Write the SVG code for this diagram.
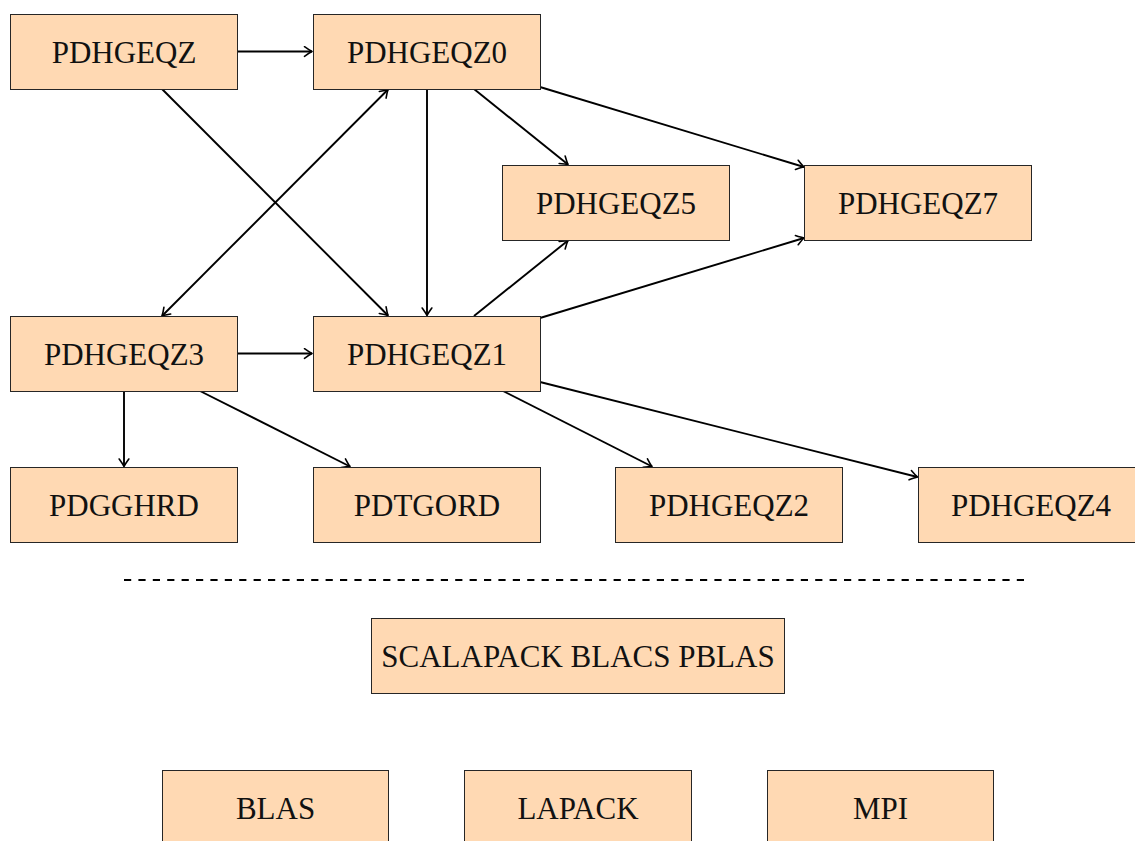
<svg xmlns="http://www.w3.org/2000/svg" width="1135" height="841" viewBox="0 0 1135 841">
<style>
.box rect{fill:#FFD9B3;stroke:#262626;stroke-width:1}
.box text{font-family:"Liberation Serif","DejaVu Serif",serif;font-size:31px;fill:#111;text-anchor:middle}
.edge{stroke:#000;stroke-width:1.9;fill:none}
</style>
<defs>
<marker id="ah" viewBox="-9 -6 11 12" markerWidth="11" markerHeight="12" refX="0" refY="0" orient="auto-start-reverse" markerUnits="userSpaceOnUse">
<path d="M -7.5 -4.8 Q -2.5 -1.2 0 0 Q -2.5 1.2 -7.5 4.8" fill="none" stroke="#000" stroke-width="1.6" stroke-linecap="round" stroke-linejoin="round"/>
</marker>
</defs>
<rect width="1135" height="841" fill="#fff"/>
<g id="connectors">
<line class="edge" x1="237" y1="51.5" x2="312" y2="51.5" marker-end="url(#ah)"/>
<line class="edge" x1="162" y1="89" x2="388" y2="315.5" marker-end="url(#ah)"/>
<line class="edge" x1="162" y1="316" x2="388" y2="89.5" marker-start="url(#ah)" marker-end="url(#ah)"/>
<line class="edge" x1="427" y1="89" x2="427" y2="315.5" marker-end="url(#ah)"/>
<line class="edge" x1="474" y1="89" x2="568" y2="164.5" marker-end="url(#ah)"/>
<line class="edge" x1="540" y1="87" x2="804" y2="167" marker-end="url(#ah)"/>
<line class="edge" x1="474" y1="316" x2="568" y2="240.5" marker-end="url(#ah)"/>
<line class="edge" x1="540" y1="318" x2="804" y2="238" marker-end="url(#ah)"/>
<line class="edge" x1="237" y1="353.5" x2="312" y2="353.5" marker-end="url(#ah)"/>
<line class="edge" x1="124" y1="391" x2="124" y2="466.5" marker-end="url(#ah)"/>
<line class="edge" x1="200" y1="391" x2="350" y2="466.5" marker-end="url(#ah)"/>
<line class="edge" x1="503" y1="391" x2="652" y2="466.5" marker-end="url(#ah)"/>
<line class="edge" x1="540" y1="382" x2="917.5" y2="477" marker-end="url(#ah)"/>
</g>
<line x1="124" y1="580" x2="1030" y2="580" stroke="#000" stroke-width="2" stroke-dasharray="7.2 7.2"/>
<g id="PDHGEQZ" class="box"><rect x="10.5" y="14.5" width="227" height="75"/><text x="124" y="63">PDHGEQZ</text></g>
<g id="PDHGEQZ0" class="box"><rect x="313.5" y="14.5" width="227" height="75"/><text x="427" y="63">PDHGEQZ0</text></g>
<g id="PDHGEQZ5" class="box"><rect x="502.5" y="165.5" width="227" height="75"/><text x="616" y="214">PDHGEQZ5</text></g>
<g id="PDHGEQZ7" class="box"><rect x="804.5" y="165.5" width="227" height="75"/><text x="918" y="214">PDHGEQZ7</text></g>
<g id="PDHGEQZ3" class="box"><rect x="10.5" y="316.5" width="227" height="75"/><text x="124" y="365">PDHGEQZ3</text></g>
<g id="PDHGEQZ1" class="box"><rect x="313.5" y="316.5" width="227" height="75"/><text x="427" y="365">PDHGEQZ1</text></g>
<g id="PDGGHRD" class="box"><rect x="10.5" y="467.5" width="227" height="75"/><text x="124" y="516">PDGGHRD</text></g>
<g id="PDTGORD" class="box"><rect x="313.5" y="467.5" width="227" height="75"/><text x="427" y="516">PDTGORD</text></g>
<g id="PDHGEQZ2" class="box"><rect x="615.5" y="467.5" width="227" height="75"/><text x="729" y="516">PDHGEQZ2</text></g>
<g id="PDHGEQZ4" class="box"><rect x="918.5" y="467.5" width="227" height="75"/><text x="1031" y="516">PDHGEQZ4</text></g>
<g id="SCALAPACK" class="box"><rect x="371.5" y="618.5" width="413" height="75"/><text x="578" y="667">SCALAPACK BLACS PBLAS</text></g>
<g id="BLAS" class="box"><rect x="162.5" y="770.5" width="226" height="75"/><text x="275.5" y="819">BLAS</text></g>
<g id="LAPACK" class="box"><rect x="464.5" y="770.5" width="227" height="75"/><text x="578" y="819">LAPACK</text></g>
<g id="MPI" class="box"><rect x="767.5" y="770.5" width="226" height="75"/><text x="880.5" y="819">MPI</text></g>
</svg>
